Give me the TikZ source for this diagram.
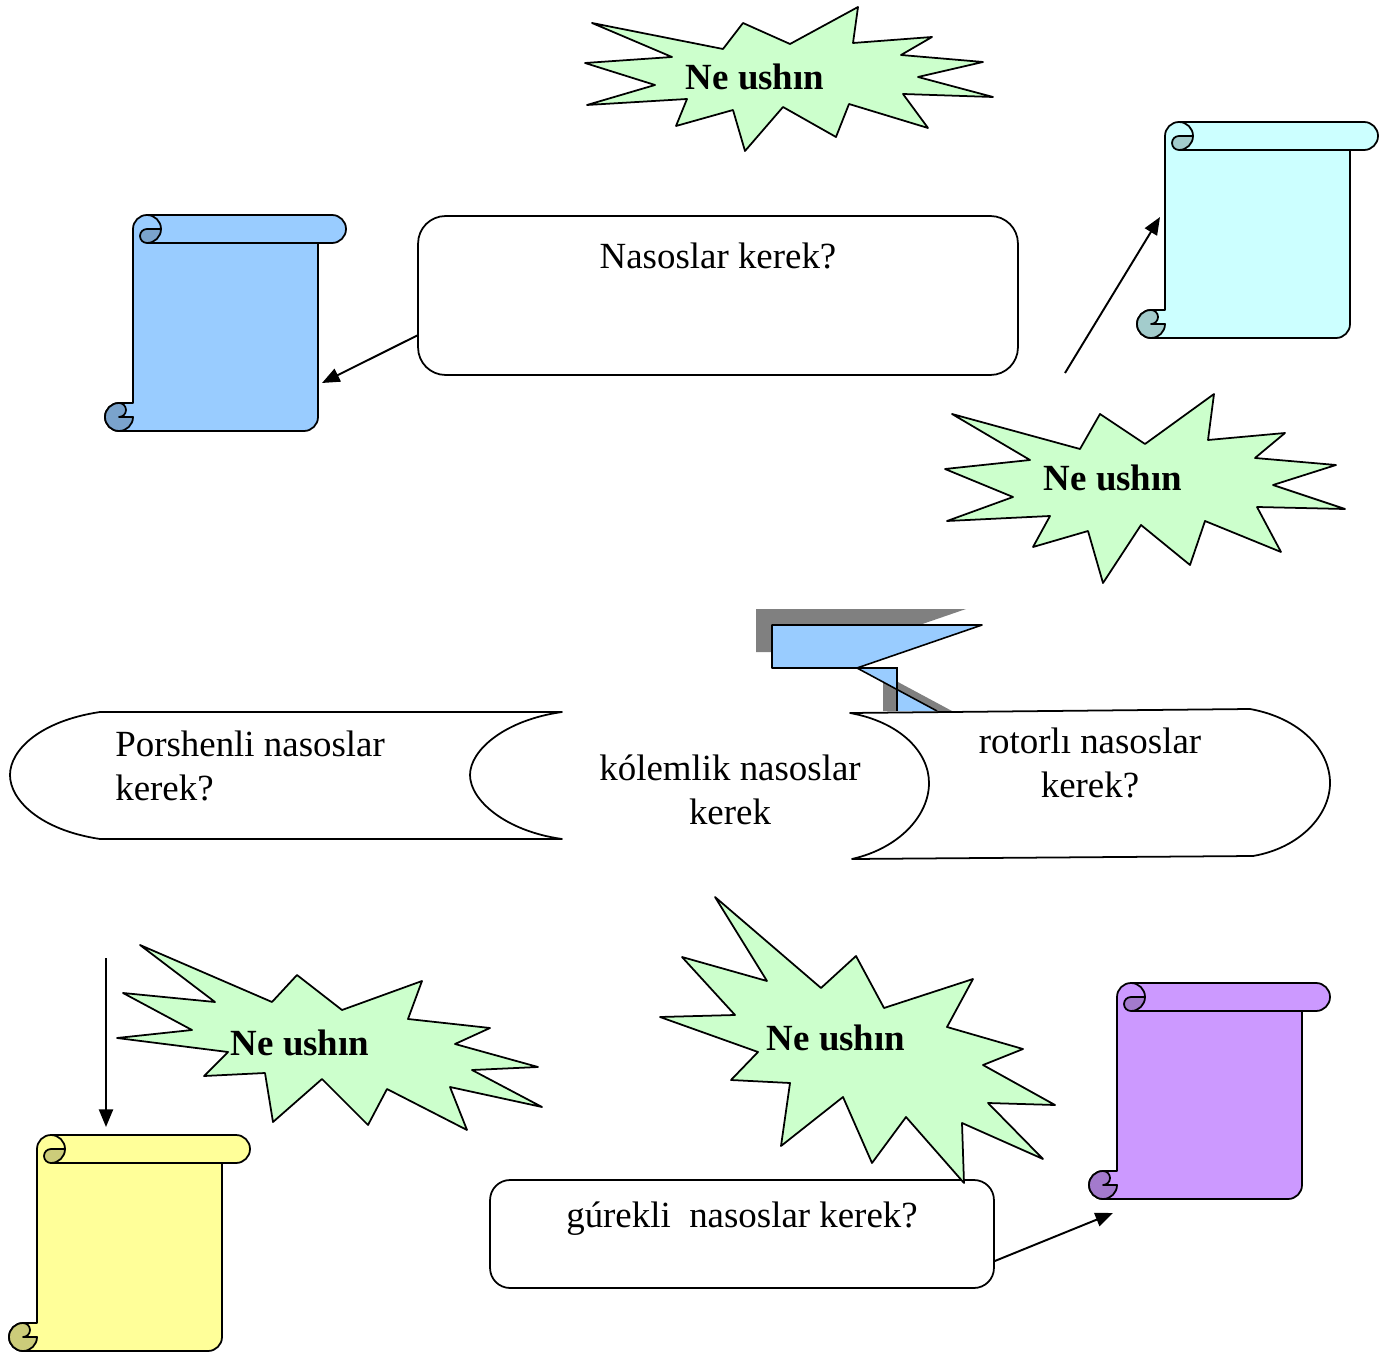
\documentclass[tikz,border=0pt]{standalone}
\usepackage{fontspec}
\setmainfont{Liberation Serif}
\usetikzlibrary{arrows.meta,calc}

\definecolor{burstgreen}{HTML}{CCFFCC}
\definecolor{pumpblue}{HTML}{99CCFF}
\definecolor{pumpblued}{HTML}{7AA3CC}
\definecolor{pumpcyan}{HTML}{CCFFFF}
\definecolor{pumpcyand}{HTML}{A3CCCC}
\definecolor{pumpyellow}{HTML}{FFFF99}
\definecolor{pumpyellowd}{HTML}{CCCC7A}
\definecolor{pumpviolet}{HTML}{CC99FF}
\definecolor{pumpvioletd}{HTML}{A37ACC}
\definecolor{shadowgray}{HTML}{808080}

\tikzset{
  outline/.style={draw=black, line width=1pt, line join=round},
  burst/.style={outline, fill=burstgreen},
  banner/.style={outline, fill=white},
  qbox/.style={outline, fill=white, rounded corners=0.55cm},
  plain/.style={font=\fontsize{21}{25}\selectfont, inner sep=0pt},
  burstlabel/.style={font=\fontsize{21}{25}\selectfont\bfseries, inner sep=0pt},
  link/.style={line width=1.1pt, -{Triangle[length=10pt,width=8pt]}},
}

% scroll: #1 left, #2 top, #3 paper colour, #4 curl colour
\newcommand{\drawscroll}[4]{%
  \begin{scope}[shift={(#1,#2)}]
    \draw[outline, fill=#3] (28,14) -- (28,188) -- (14,188) arc(-90:-270:14)
      -- (199,216) arc(90:0:14) -- (213,28) -- (227,28) arc(90:-90:14)
      -- (42,0) arc(-90:-180:14) -- cycle;
    \draw[outline] (42,28) -- (213,28);
    \draw[outline, fill=#4] (42,14) arc(-90:-270:7) arc(90:0:14) -- cycle;
    \draw[outline] (42,0) arc(-90:0:14);
    \draw[outline, fill=#4] (14,188) arc(-90:90:7) -- (28,202) arc(0:270:14) -- cycle;
  \end{scope}}

\begin{document}
\begin{tikzpicture}[x=0.02cm, y=-0.02cm]
\useasboundingbox (0,0) rectangle (1396,1354);

% 1. Bursts
\draw[burst] (592,23) -- (723,49) -- (743,23) -- (790,44) -- (858,7) -- (853,43)
  -- (932,37) -- (901,55) -- (983,62) -- (918,77) -- (993,97) -- (903,94)
  -- (928,128) -- (849,104) -- (836,137) -- (783,107) -- (745,151) -- (733,110)
  -- (676,126) -- (687,99) -- (587,105) -- (655,85) -- (585,63) -- (672,57) -- cycle;
\node[burstlabel] (why1) at (755,77) {Ne ushın};

\draw[burst] (952,414) -- (1080,449) -- (1100,414) -- (1145,444) -- (1214,394)
  -- (1208,440) -- (1285,433) -- (1255,458) -- (1336,465) -- (1273,485)
  -- (1345,509) -- (1257,507) -- (1281,552) -- (1205,521) -- (1190,565)
  -- (1141,525) -- (1103,583) -- (1088,531) -- (1033,547) -- (1050,516)
  -- (947,521) -- (1013,497) -- (945,469) -- (1030,460) -- cycle;
\node[burstlabel] (why2) at (1113,478) {Ne ushın};

\draw[burst] (140,945) -- (272,1002) -- (297,975) -- (342,1010) -- (422,981)
  -- (408,1019) -- (490,1028) -- (455,1044) -- (538,1067) -- (472,1070)
  -- (542,1107) -- (450,1087) -- (467,1130) -- (387,1089) -- (368,1125)
  -- (322,1079) -- (273,1122) -- (265,1073) -- (204,1076) -- (228,1052)
  -- (117,1038) -- (192,1030) -- (123,993) -- (215,1002) -- cycle;
\node[burstlabel] (why3) at (300,1043) {Ne ushın};

% 2. Question boxes
\node[qbox, minimum width=12cm, minimum height=3.18cm] (qtop) at (718,295.5) {};
\node[plain] (qtoptext) at (718,256) {Nasoslar kerek?};

\node[qbox, rounded corners=0.4cm, minimum width=10.08cm, minimum height=2.16cm] (qbot) at (742,1234) {};
\node[plain] (qbottext) at (742,1219) {gúrekli\ \ nasoslar kerek?};

\draw[burst] (715,897) -- (821,988) -- (856,956) -- (884,1008) -- (973,979)
  -- (947,1027) -- (1023,1049) -- (983,1065) -- (1055,1105) -- (988,1103)
  -- (1043,1159) -- (962,1123) -- (964,1183) -- (906,1117) -- (872,1163)
  -- (843,1097) -- (781,1146) -- (790,1083) -- (731,1080) -- (758,1052)
  -- (660,1017) -- (735,1015) -- (682,957) -- (767,981) -- cycle;
\node[burstlabel] (why4) at (836,1038) {Ne ushın};

% 3. Scrolls
\drawscroll{105}{215}{pumpblue}{pumpblued}
\drawscroll{1137}{122}{pumpcyan}{pumpcyand}
\drawscroll{9}{1135}{pumpyellow}{pumpyellowd}
\drawscroll{1089}{983}{pumpviolet}{pumpvioletd}

% 4. Bent arrow with its shadow
\fill[shadowgray] (756,609) -- (966,609) -- (841,652) -- (756,652) -- cycle;
\fill[shadowgray] (883,674) -- (952,711) -- (883,711) -- cycle;
\draw[outline, line width=0.9pt, fill=pumpblue] (772,625) -- (982,625) -- (857,668) -- (772,668) -- cycle;
\fill[pumpblue] (857,668) -- (897,668) -- (897,711) -- (937,711) -- cycle;
\draw[line width=0.9pt] (857,668) -- (897,668) -- (897,711);
\draw[line width=0.9pt] (857,668) -- (937,711);

% 5. Banners
\draw[banner] (100,712) -- (562,712) .. controls (505,720) and (470,750) .. (470,775)
  .. controls (470,800) and (505,831) .. (562,839) -- (100,839)
  .. controls (40,830) and (10,800) .. (10,775) .. controls (10,750) and (40,721) .. (100,712) -- cycle;
\node[plain, anchor=west, align=left] (porshen) at (115,766) {Porshenli nasoslar\\kerek?};

\draw[banner] (850,713) -- (1250,709) .. controls (1300,718) and (1330,750) .. (1330,783)
  .. controls (1330,815) and (1300,848) .. (1253,856) -- (852,859)
  .. controls (900,848) and (929,815) .. (929,783) .. controls (929,752) and (900,722) .. (850,713) -- cycle;
\node[plain, align=center] (rotor) at (1090,763) {rotorlı nasoslar\\kerek?};

\node[plain, align=center] (kolem) at (730,790) {kólemlik nasoslar\\kerek};

% 6. Arrows
\coordinate (toblue) at (322,383);
\coordinate (fromburst) at (1065,373);
\coordinate (tocyan) at (1160,217);
\coordinate (fromleft) at (106,958);
\coordinate (toyellow) at (106,1127);
\coordinate (toviolet) at (1113,1213);

\draw[link] ($(qtop.west)+(0,40)$) -- (toblue);
\draw[link] (fromburst) -- (tocyan);
\draw[link] (fromleft) -- (toyellow);
\draw[link] ($(qbot.east)+(0,27)$) -- (toviolet);

\end{tikzpicture}
\end{document}
